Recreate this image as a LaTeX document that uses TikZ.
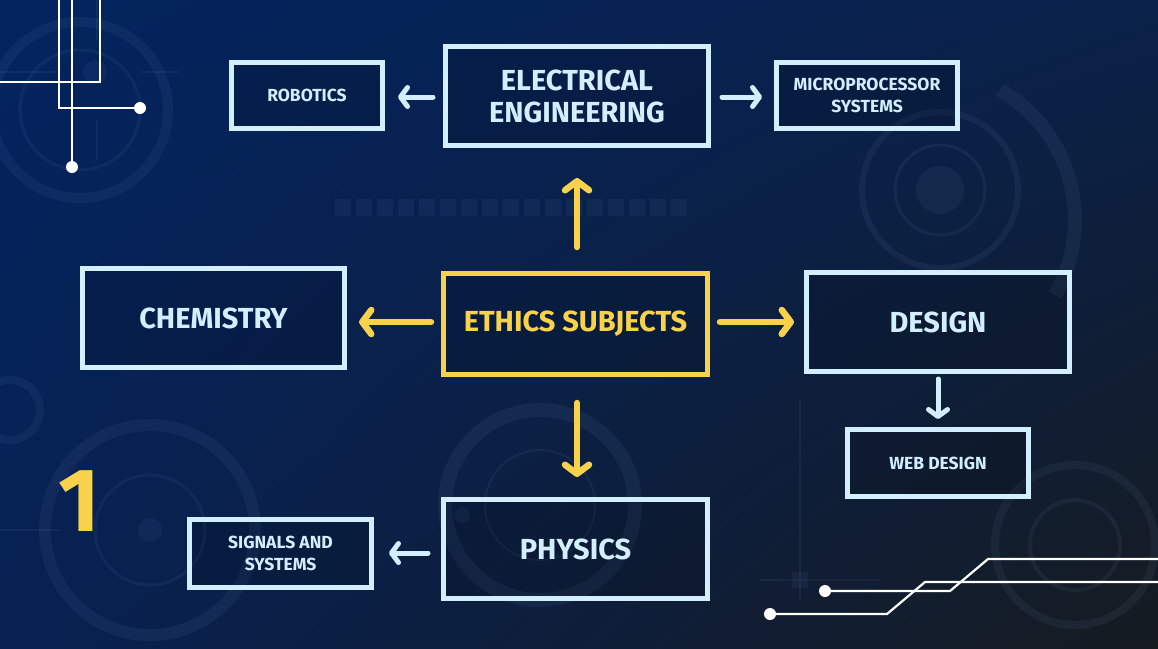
\documentclass[tikz,border=0pt]{standalone}
\usepackage{fontspec}
\setmainfont{Fira Sans}
\usetikzlibrary{arrows.meta,shadings}
\definecolor{ylw}{HTML}{F8D24B}
\definecolor{lblue}{HTML}{D3EFFF}
\definecolor{bgUL}{HTML}{03245F}
\definecolor{bgUR}{HTML}{0A2149}
\definecolor{bgLL}{HTML}{072152}
\definecolor{bgLR}{HTML}{161B20}
\definecolor{deco}{HTML}{7FA0D0}
\begin{document}
\begin{tikzpicture}[x=1pt,y=-1pt,
  box/.style={draw=lblue, line width=5pt, fill=black, fill opacity=0.12, text opacity=1,
    text=lblue, font=\bfseries, align=center, inner sep=0pt},
  bigtxt/.style={font=\bfseries\fontsize{29}{32}\selectfont},
  smalltxt/.style={font=\bfseries\fontsize{17.5}{22}\selectfont},
  ybox/.style={box, draw=ylw, text=ylw},
  yarrow/.style={draw=ylw, line width=6.5pt, line cap=round,
    -{Straight Barb[length=9pt,width=24pt,round]}},
  barrow/.style={draw=lblue, line width=5pt, line cap=round,
    -{Straight Barb[length=7pt,width=19pt,round]}},
  wire/.style={draw=white, line width=2.2pt},
  dot/.style={circle, fill=white, inner sep=0pt, minimum size=12pt},
  faint/.style={draw=deco, draw opacity=0.08},
  faintfill/.style={fill=deco, fill opacity=0.07}
]
\useasboundingbox (0,0) rectangle (1158,648);
\shade[upper left=bgUL, upper right=bgUR, lower left=bgLL, lower right=bgLR] (0,0) rectangle (1158,648);

% faint background decorations
\draw[faint, line width=10pt] (80,110) circle[radius=88];
\draw[faint, line width=3pt] (80,110) circle[radius=60];
\draw[faintfill, draw=none] (95,72) circle[radius=12];
\draw[faint, line width=2pt] (0,72) -- (55,72) (140,72) -- (180,72) (97,0) -- (97,40) (97,120) -- (97,160);
\fill[faintfill] (940,190) circle[radius=24];
\draw[faint, line width=3pt] (940,190) circle[radius=45];
\draw[faint, line width=6pt] (940,190) circle[radius=78];
\draw[faint, line width=14pt] (1000,90) arc[start angle=-60, end angle=30, radius=150];
\foreach \i in {0,...,16} {
  \fill[faintfill] ({335+\i*21},199) rectangle ({351+\i*21},216);
}
\draw[faint, line width=3pt] (150,530) circle[radius=55];
\fill[faintfill] (150,530) circle[radius=12];
\draw[faint, line width=12pt] (150,530) circle[radius=105];
\draw[faint, line width=2pt] (0,530) -- (60,530);
\draw[faint, line width=14pt] (540,505) circle[radius=95];
\draw[faint, line width=2pt] (540,505) circle[radius=55];
\fill[faintfill] (462,515) circle[radius=8];
\draw[faint, line width=4pt] (1075,545) circle[radius=45];
\draw[faint, line width=8pt] (1075,545) circle[radius=80];
\draw[faint, line width=8pt] (10,410) circle[radius=30];
\draw[faint, line width=2pt] (800,400) -- (800,600) (760,580) -- (880,580);
\fill[faintfill] (792,572) rectangle (808,588);

% circuit wires
\draw[wire] (59,0) -- (59,108) -- (140,108);
\node[dot] (d1) at (140,108) {};
\draw[wire] (72,0) -- (72,167);
\node[dot] (d2) at (72,167) {};
\draw[wire] (100,0) -- (100,82) -- (0,82);
\coordinate (w1) at (1158,559);
\coordinate (w2) at (1158,582);
\node[dot] (d3) at (825,591) {};
\node[dot] (d4) at (770,614) {};
\draw[wire] (d3.center) -- (950,591) -- (988,559) -- (w1);
\draw[wire] (d4.center) -- (887,614) -- (925,582) -- (w2);

% boxes
\node[box, bigtxt, minimum width=263, minimum height=99] (ee) at (577,96) {ELECTRICAL\\ENGINEERING};
\node[box, smalltxt, minimum width=151, minimum height=66] (rob) at (307,95.5) {ROBOTICS};
\node[box, smalltxt, minimum width=181, minimum height=66] (mic) at (867,95.5) {MICROPROCESSOR\\SYSTEMS};
\node[ybox, bigtxt, minimum width=264, minimum height=101] (eth) at (575.5,324) {ETHICS SUBJECTS};
\node[box, bigtxt, minimum width=262, minimum height=99] (chem) at (213.5,318) {CHEMISTRY};
\node[box, bigtxt, minimum width=263, minimum height=99] (des) at (938,322) {DESIGN};
\node[box, smalltxt, minimum width=181, minimum height=67] (web) at (938,463) {WEB DESIGN};
\node[box, bigtxt, minimum width=264, minimum height=99] (phy) at (575.5,549) {PHYSICS};
\node[box, smalltxt, minimum width=182, minimum height=68] (sig) at (280.5,553.5) {SIGNALS AND\\SYSTEMS};

\node[text=ylw, font=\bfseries\fontsize{90}{90}\selectfont, inner sep=0pt] (one) at (79,501) {1};

% arrows
\draw[yarrow, shorten <=24pt, shorten >=30pt] (eth.north -| 577,0) -- (ee.south);
\draw[yarrow, shorten <=10pt, shorten >=12pt] (eth.west |- 0,322) -- (chem.east |- 0,322);
\draw[yarrow, shorten <=10pt, shorten >=10pt] (eth.east |- 0,322) -- (des.west |- 0,322);
\draw[yarrow, shorten <=26pt, shorten >=20pt] (eth.south -| 577,0) -- (phy.north -| 577,0);
\draw[barrow, shorten <=10pt, shorten >=13pt] (ee.west |- 0,97) -- (rob.east |- 0,97);
\draw[barrow, shorten <=11pt, shorten >=12pt] (ee.east |- 0,97) -- (mic.west |- 0,97);
\draw[barrow, shorten <=5pt, shorten >=8pt] (des.south) -- (web.north);
\draw[barrow, shorten <=13pt, shorten >=15pt] (phy.west |- 0,553) -- (sig.east |- 0,553);
\end{tikzpicture}
\end{document}
